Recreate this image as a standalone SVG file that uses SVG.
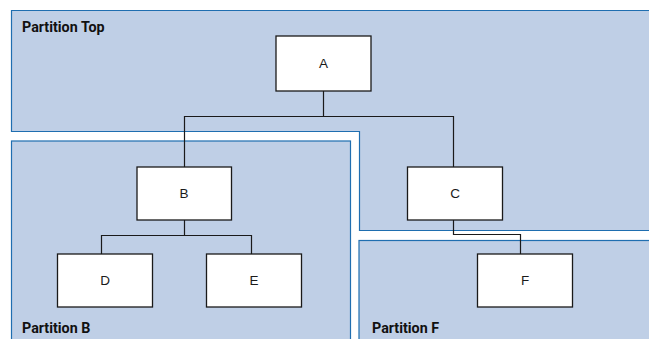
<svg xmlns="http://www.w3.org/2000/svg" width="649" height="339" viewBox="0 0 649 339">
<style>
.part{fill:#bfcfe6;stroke:#1f6eb0;stroke-width:1.2}
.plabel{font-family:Roboto,"Liberation Sans",sans-serif;font-weight:bold;font-size:14.3px;fill:#111}
.node rect{fill:#ffffff;stroke:#1a1a1a;stroke-width:1.3}
.node text{font-family:"Liberation Sans",Arial,sans-serif;font-size:13.5px;fill:#1a1a1a;text-anchor:middle}
.conn{fill:none;stroke:#1a1a1a;stroke-width:1.2}
</style>
<rect width="649" height="339" fill="#ffffff"/>
<g id="partition-top">
<path class="part" d="M11.5,10.5 H665 V230.5 H359.5 V131.5 H11.5 Z"/>
<text class="plabel" x="22" y="31.5">Partition Top</text>
</g>
<g id="partition-b">
<rect class="part" x="11.5" y="141" width="339" height="220"/>
<text class="plabel" x="22" y="332.5">Partition B</text>
</g>
<g id="partition-f">
<rect class="part" x="359" y="240.5" width="310" height="120"/>
<text class="plabel" x="372" y="332.5">Partition F</text>
</g>
<g id="connectors">
<path class="conn" d="M323.5,91 V116.5 H184.5 V167"/>
<path class="conn" d="M323.5,116.5 H453.5 V167"/>
<path class="conn" d="M453.5,220 V234.5 H520.5 V254"/>
<path class="conn" d="M184.5,220 V235.5 H101.5 V254"/>
<path class="conn" d="M184.5,235.5 H251.5 V254"/>
</g>
<g id="node-a" class="node"><rect x="276" y="36" width="95" height="55"/><text x="323.5" y="67.8">A</text></g>
<g id="node-b" class="node"><rect x="137" y="167" width="94.5" height="53"/><text x="184" y="198.3">B</text></g>
<g id="node-c" class="node"><rect x="407.5" y="167" width="95" height="53"/><text x="455" y="198.3">C</text></g>
<g id="node-d" class="node"><rect x="57.5" y="254" width="95" height="53"/><text x="105" y="285.3">D</text></g>
<g id="node-e" class="node"><rect x="206.5" y="254" width="95" height="53"/><text x="254" y="285.3">E</text></g>
<g id="node-f" class="node"><rect x="477.5" y="254" width="95" height="53"/><text x="525" y="285.3">F</text></g>
</svg>
